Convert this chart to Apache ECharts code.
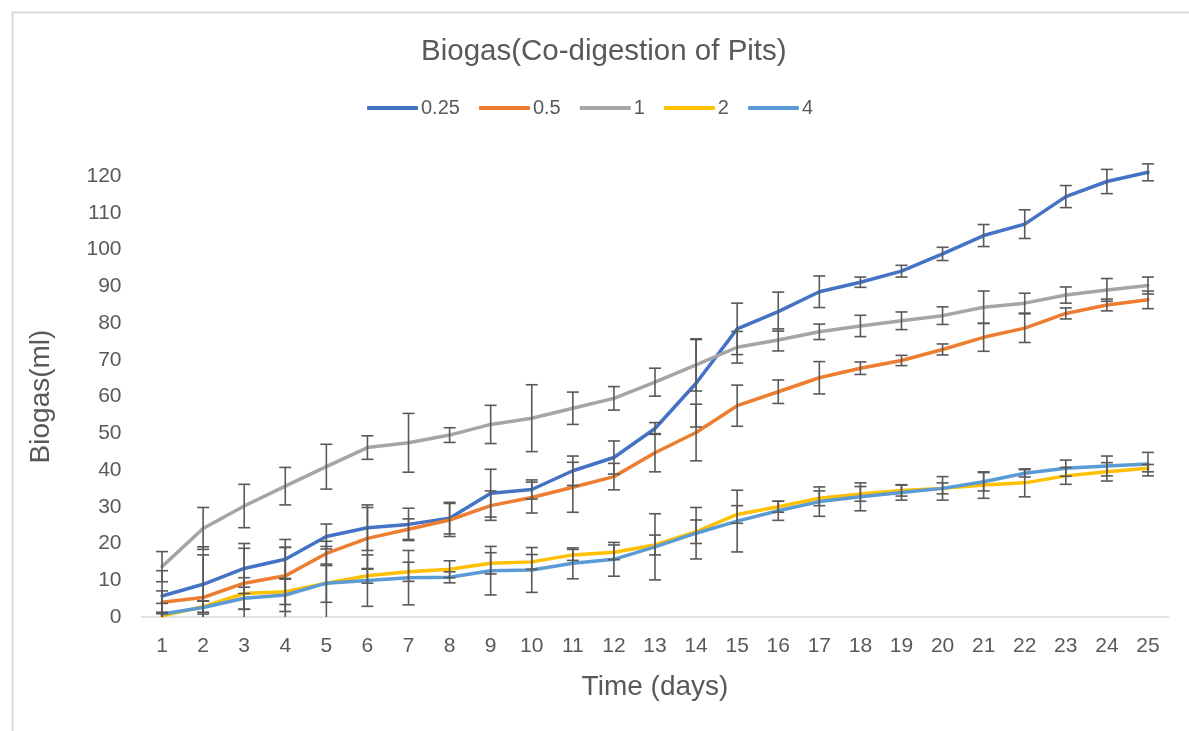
<!DOCTYPE html>
<html>
<head>
<meta charset="utf-8">
<script src="https://cdn.jsdelivr.net/npm/echarts@6/dist/echarts.min.js"></script>
<style>html,body{margin:0;padding:0;background:#fff;}#c{width:1189px;height:731px;}</style>
</head>
<body>
<div id="c"></div>
<script>
const days = ['1','2','3','4','5','6','7','8','9','10','11','12','13','14','15','16','17','18','19','20','21','22','23','24','25'];
const seriesNames = ['0.25','0.5','1','2','4'];
const yTicks = [0,10,20,30,40,50,60,70,80,90,100,110,120];

const s025 = [5.7, 8.9, 13.2, 15.7, 21.9, 24.3, 25.2, 26.9, 33.7, 34.7, 39.8, 43.4, 51.3, 63.6, 78.4, 83.1, 88.5, 91.1, 94.1, 98.8, 103.8, 106.9, 114.4, 118.5, 121];
const e025 = [6.9, 10.2, 6.8, 5.4, 3.4, 6.2, 4.4, 4.3, 6.5, 2.6, 4, 4.5, 1.6, 11.9, 7, 5.3, 4.3, 1.4, 1.6, 1.8, 3, 3.9, 3, 3.3, 2.3];

const s05 = [4, 5.3, 9.2, 11.2, 17.3, 21.4, 23.9, 26.4, 30.3, 32.5, 35.3, 38.2, 44.7, 50.2, 57.5, 61.3, 65.1, 67.7, 69.8, 72.8, 76.1, 78.6, 82.6, 84.9, 86.3];
const e05 = [3.1, 11.6, 9.5, 7.8, 3.3, 8.4, 2.8, 4.5, 4, 4.2, 6.8, 3.6, 5.2, 7.7, 5.6, 3.2, 4.4, 1.7, 1.4, 1.5, 3.8, 3.9, 1.5, 1.6, 2.4];

const s1 = [13.7, 24.1, 30.2, 35.6, 40.9, 46.1, 47.4, 49.5, 52.4, 54.1, 56.8, 59.5, 63.9, 68.6, 73.4, 75.4, 77.6, 79.2, 80.6, 82, 84.3, 85.4, 87.6, 89, 90.2];
const e1 = [4.1, 5.7, 5.9, 5.1, 6.1, 3.2, 8, 2, 5.2, 9.1, 4.4, 3.2, 3.8, 7.1, 4.3, 3, 2.1, 2.9, 2.4, 2.4, 4.4, 2.7, 2.2, 3.1, 2.3];

const s2 = [0.3, 2.8, 6.4, 6.9, 9.2, 11.2, 12.3, 13, 14.6, 15, 16.9, 17.6, 19.6, 23.2, 27.9, 30, 32.3, 33.5, 34.4, 35, 35.9, 36.5, 38.4, 39.5, 40.5];
const e2 = [1, 1.5, 4.3, 12, 10, 2, 2.6, 2.3, 2.9, 2, 1.5, 2, 2.7, 3.2, 2.4, 1.5, 2, 2, 1.5, 1.5, 3.6, 3.8, 2.3, 2.5, 1];

const s4 = [0.8, 2.6, 5.1, 6, 9.2, 9.9, 10.7, 10.8, 12.6, 12.8, 14.6, 15.7, 19.1, 22.8, 26.1, 28.9, 31.4, 32.7, 33.9, 35, 36.8, 39.1, 40.5, 41.1, 41.6];
const e4 = [2.9, 1.8, 3, 4.5, 5.2, 7, 7.4, 1.5, 6.6, 6.1, 4.2, 4.6, 9, 7, 8.4, 2.6, 4, 3.8, 2.1, 3.2, 2.5, 1, 2.2, 2.7, 3.2];

const colors = ['#4472C4', '#ED7D31', '#A5A5A5', '#FFC000', '#5B9BD5'];
const values = [s025, s05, s1, s2, s4];
const errors = [e025, e05, e1, e2, e4];
const TXT = '#595959';
const FONT = '"Liberation Sans", Arial, sans-serif';

function errRender(params, api) {
  const x = api.value(0), v = api.value(1), e = api.value(2);
  const lo = Math.max(0, v - e), hi = v + e;
  const pt = api.coord([x, hi]);
  const pb = api.coord([x, lo]);
  const cw = 6;
  const st = { stroke: '#595959', lineWidth: 1.6 };
  const children = [
    { type: 'line', shape: { x1: pt[0], y1: pt[1], x2: pb[0], y2: pb[1] }, style: st },
    { type: 'line', shape: { x1: pt[0] - cw, y1: pt[1], x2: pt[0] + cw, y2: pt[1] }, style: st }
  ];
  if (v - e >= 0) {
    children.push({ type: 'line', shape: { x1: pb[0] - cw, y1: pb[1], x2: pb[0] + cw, y2: pb[1] }, style: st });
  }
  return { type: 'group', children: children };
}

const series = [];
seriesNames.forEach((n, k) => {
  series.push({
    name: n, type: 'line', data: values[k], showSymbol: false, symbol: 'none', clip: false,
    lineStyle: { color: colors[k], width: 3.5, cap: 'round', join: 'round' },
    itemStyle: { color: colors[k] }, z: 2
  });
  series.push({
    name: n + '_err', type: 'custom', renderItem: errRender, z: 3, clip: false,
    data: values[k].map((v, i) => [i, v, errors[k][i]]),
    encode: { x: 0, y: 1 }, silent: true
  });
});

const chart = echarts.init(document.getElementById('c'), null, { renderer: 'canvas' });
chart.setOption({
  animation: false,
  backgroundColor: '#fff',
  graphic: [{
    type: 'rect', left: 10, top: 10, silent: true,
    shape: { width: 1200, height: 800 },
    style: { fill: 'none', stroke: '#d9d9d9', lineWidth: 2 }
  }],
  title: {
    text: 'Biogas(Co-digestion of Pits)', left: 416, top: 32,
    textStyle: { fontFamily: FONT, fontSize: 29.5, fontWeight: 'normal', color: TXT }
  },
  legend: {
    data: seriesNames, left: 362, top: 93, itemWidth: 51, itemHeight: 4, itemGap: 19,
    icon: 'roundRect',
    textStyle: { fontFamily: FONT, fontSize: 20, color: TXT, padding: [0, 0, 0, -2] }
  },
  grid: { left: 141.5, right: 20.5, top: 176, bottom: 114, containLabel: false },
  xAxis: {
    type: 'category', data: days, boundaryGap: true,
    axisLine: { lineStyle: { color: '#d9d9d9', width: 1.5 } },
    axisTick: { show: false },
    axisLabel: { fontFamily: FONT, fontSize: 21, color: TXT, margin: 19 },
    name: 'Time (days)', nameLocation: 'middle', nameGap: 56,
    nameTextStyle: { fontFamily: FONT, fontSize: 28, color: TXT }
  },
  yAxis: {
    type: 'value', min: yTicks[0], max: yTicks[yTicks.length - 1], interval: 10,
    axisLine: { show: false }, axisTick: { show: false }, splitLine: { show: false },
    axisLabel: { fontFamily: FONT, fontSize: 21, color: TXT, margin: 20 },
    name: 'Biogas(ml)', nameLocation: 'middle', nameGap: 86,
    nameTextStyle: { fontFamily: FONT, fontSize: 28, color: TXT }
  },
  series: series
});
</script>
</body>
</html>
